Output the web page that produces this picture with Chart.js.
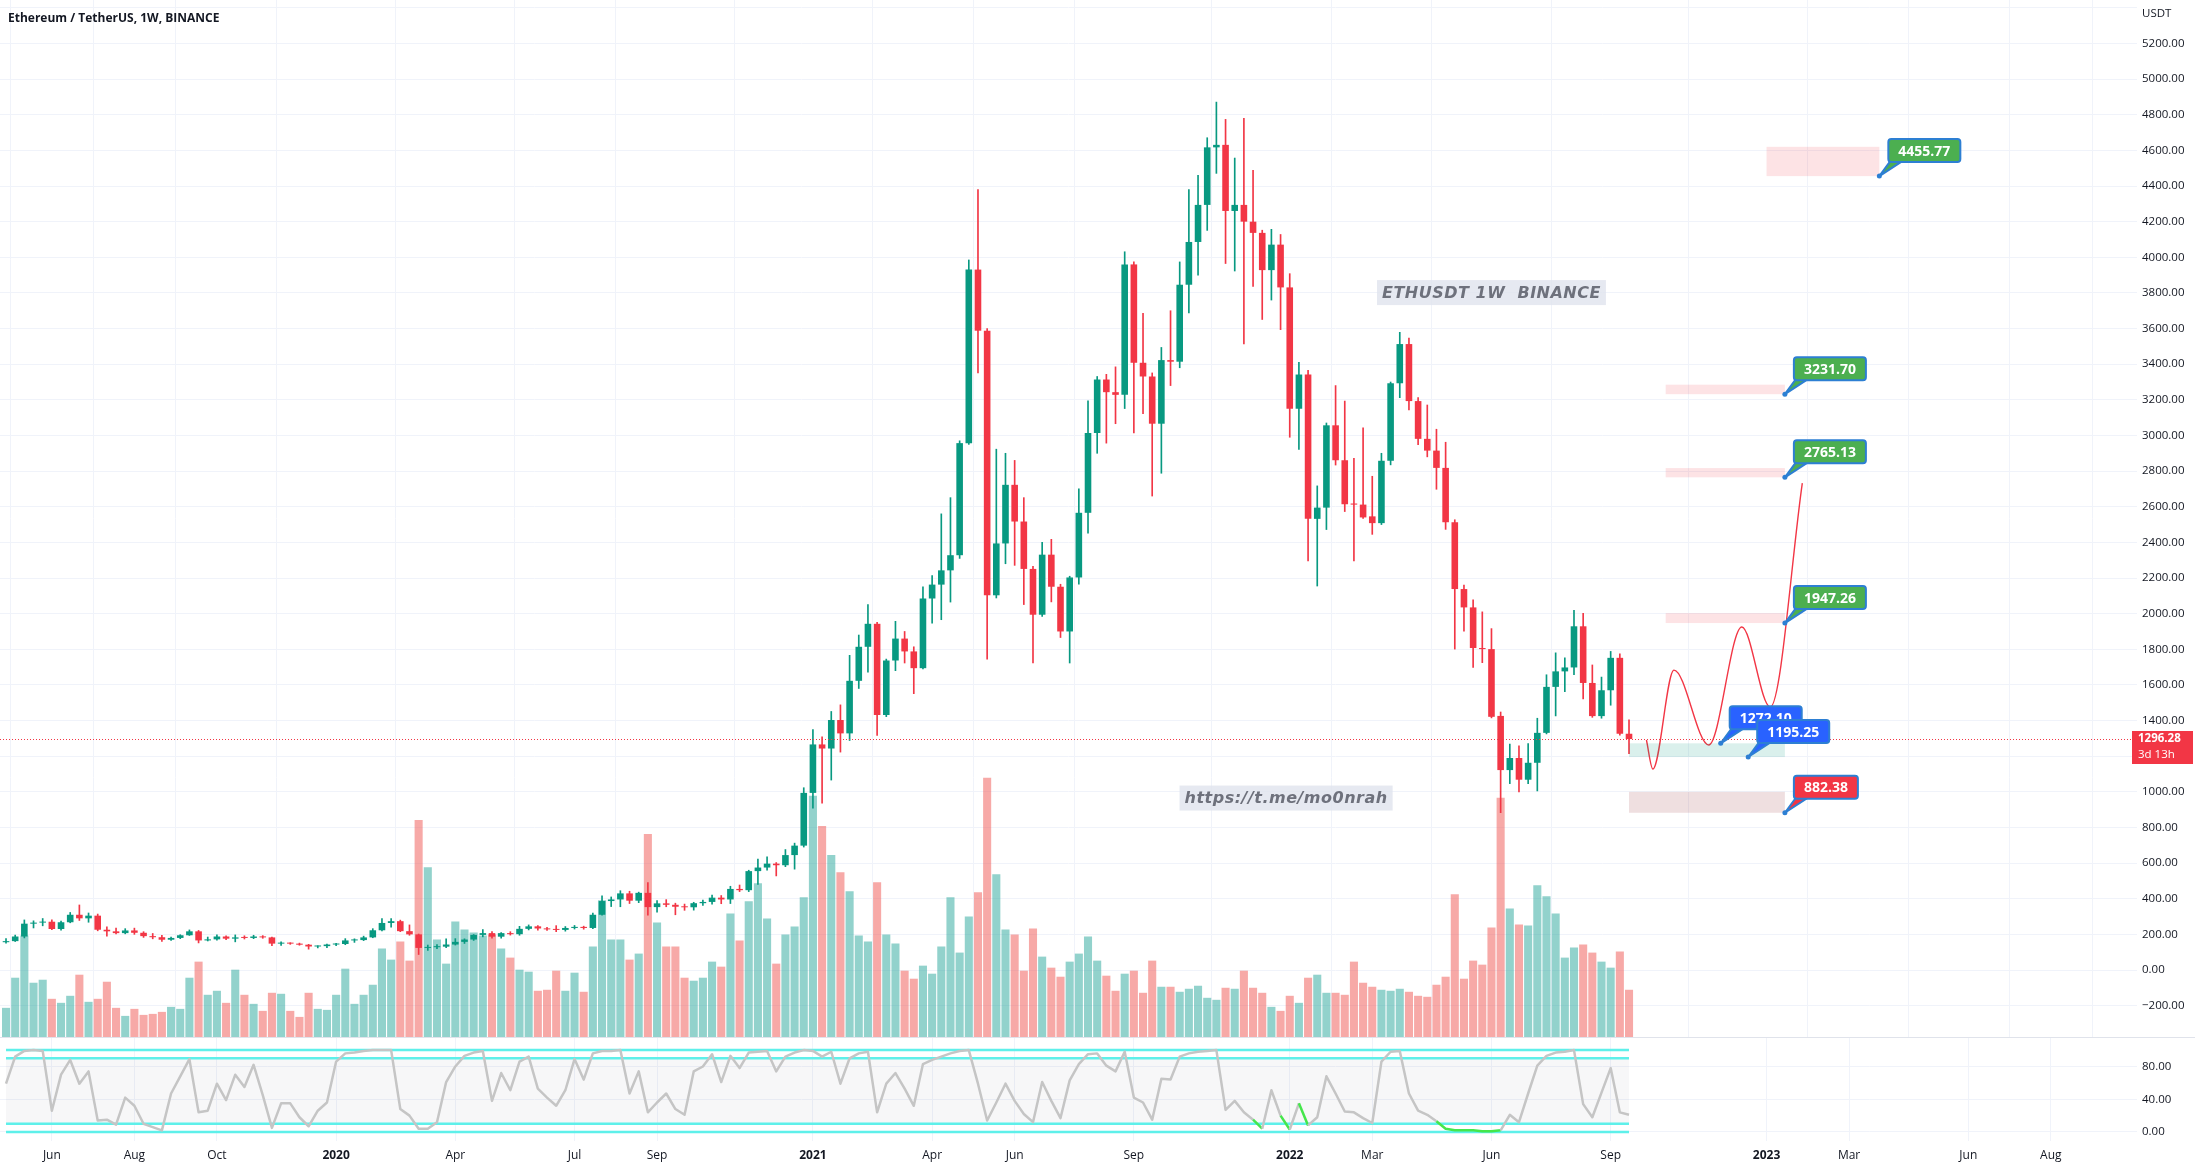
<!DOCTYPE html>
<html>
<head>
<meta charset="utf-8">
<title>ETHUSDT 1W BINANCE</title>
<script src="https://cdn.jsdelivr.net/npm/chart.js"></script>
<style>
  html, body { margin: 0; padding: 0; background: #fff; }
  #wrap { position: relative; width: 2195px; height: 1168px; overflow: hidden; }
  #priceCanvas { position: absolute; left: 0; top: 0; }
  #oscCanvas { position: absolute; left: 0; top: 1037px; }
  #title { position: absolute; left: 8px; top: 9px; font: bold 12px "Open Sans", sans-serif; color: #131722; }
</style>
</head>
<body>
<div id="wrap">
  <canvas id="priceCanvas" width="2195" height="1037"></canvas>
  <canvas id="oscCanvas" width="2195" height="131"></canvas>
  <div id="title">Ethereum / TetherUS, 1W, BINANCE</div>
</div>
<script>
// weekly bars, first week starts 2019-04-29
const open = [
  156,162,188,260,266,271,230,268,310,290,
  305,226,217,207,222,209,190,184,170,180,
  195,217,166,172,188,176,183,180,188,183,
  148,152,148,142,132,134,143,146,166,168,
  183,223,264,274,218,200,124,128,131,143,
  158,171,197,207,187,207,201,231,245,233,
  228,225,236,242,236,310,387,396,430,389,
  433,353,374,366,355,352,375,382,406,396,
  455,448,555,575,597,588,645,698,994,1266,
  1243,1403,1328,1623,1814,1943,1431,1737,1860,1788,
  1694,2085,2163,2243,2328,2957,3931,3588,2103,2394,
  2723,2517,2251,1994,2331,2151,1900,2203,2566,3014,
  3314,3243,3228,3960,3408,3331,3066,3423,3414,3846,
  4086,4294,4617,4631,4260,4294,4200,4137,3928,4071,
  3831,3150,3342,2532,2595,3057,2861,2618,2612,2546,
  2508,2858,3293,3513,3193,2981,2915,2818,2513,2138,
  2035,1807,1801,1426,1122,1190,1068,1163,1331,1589,
  1676,1698,1929,1611,1425,1570,1752,1326
];
const high = [
  176,196,281,276,289,282,275,323,365,320,
  314,242,235,232,235,215,205,195,185,198,
  225,222,185,198,192,197,192,195,193,185,
  158,153,151,144,136,145,150,176,175,190,
  232,288,288,280,253,202,140,142,175,176,
  175,199,227,216,210,215,245,253,250,240,
  249,244,250,246,320,416,410,445,442,437,
  490,390,395,375,370,380,393,420,418,470,
  477,560,623,635,603,676,712,1023,1350,1308,
  1451,1488,1766,1880,2051,1951,1745,1957,1900,1814,
  2151,2214,2560,2651,2970,3985,4380,3600,2923,2900,
  2860,2651,2266,2400,2417,2165,2210,2700,3194,3331,
  3343,3385,4031,3974,3686,3351,3494,3700,3974,4380,
  4460,4671,4871,4774,4557,4780,4488,4152,4157,4128,
  3908,3410,3365,2717,3070,3280,3193,2872,3043,2771,
  2900,3300,3579,3546,3212,3171,3035,2962,2527,2160,
  2078,2010,1916,1448,1268,1258,1271,1413,1657,1780,
  1752,2019,2002,1712,1644,1788,1774,1404
];
const low = [
  150,160,180,236,248,226,224,265,278,268,
  220,190,202,203,200,183,175,160,166,176,
  194,152,163,168,170,158,174,176,178,137,
  138,144,139,117,124,125,137,142,155,165,
  181,220,240,215,195,87,110,120,126,140,
  149,166,186,178,178,196,195,225,224,222,
  215,218,230,229,232,308,356,355,373,378,
  308,325,355,310,335,336,362,370,372,373,
  440,440,480,560,528,580,566,690,908,937,
  1066,1223,1288,1580,1671,1317,1422,1680,1723,1551,
  1690,1946,1966,2065,2310,2950,3351,1745,2088,2280,
  2271,2051,1723,1985,2066,1866,1723,2166,2451,2900,
  2957,3066,3151,3014,3122,2660,2788,3280,3380,3688,
  3900,4151,4471,3965,3923,3514,3837,3651,3760,3594,
  2990,2921,2296,2155,2472,2834,2573,2296,2535,2445,
  2500,2835,3212,3144,2948,2880,2698,2473,1801,1902,
  1698,1725,1415,883,1046,999,1046,1005,1325,1426,
  1562,1657,1521,1418,1413,1486,1318,1214
];
const close = [
  162,188,260,266,271,230,268,310,290,305,
  226,217,207,222,209,190,184,170,180,195,
  217,166,172,188,176,183,180,188,183,148,
  152,148,142,132,134,143,146,166,168,183,
  223,264,274,218,200,124,128,131,143,158,
  171,197,207,187,207,201,231,245,233,228,
  225,236,242,236,310,387,396,430,389,433,
  353,374,366,355,352,375,382,406,396,455,
  448,555,575,597,588,645,698,994,1266,1243,
  1403,1328,1623,1814,1943,1431,1737,1860,1788,1694,
  2085,2163,2243,2328,2957,3931,3588,2103,2394,2723,
  2517,2251,1994,2331,2151,1900,2203,2566,3014,3314,
  3243,3228,3960,3408,3331,3066,3423,3414,3846,4086,
  4294,4617,4631,4260,4294,4200,4137,3928,4071,3831,
  3150,3342,2532,2595,3057,2861,2614,2612,2540,2508,
  2858,3293,3513,3193,2981,2915,2818,2513,2138,2035,
  1807,1801,1421,1122,1190,1068,1163,1331,1589,1676,
  1698,1929,1611,1425,1570,1752,1326,1296.28
];
// weekly volume, million ETH
const volume = [
  2.9,5.9,10.1,5.4,5.7,3.8,3.4,4.1,6.2,3.5,
  3.8,5.5,2.9,2.1,2.8,2.2,2.3,2.5,3.0,2.8,
  5.9,7.5,4.2,4.6,3.4,6.7,4.2,3.3,2.6,4.4,
  4.3,2.6,2.0,4.4,2.8,2.7,4.2,6.8,3.3,4.2,
  5.2,8.8,7.7,9.5,7.6,21.6,16.9,9.7,7.3,11.5,
  10.7,10.4,10.1,10.2,8.8,7.9,6.7,6.5,4.6,4.7,
  6.6,4.6,6.4,4.5,9.0,13.6,9.7,9.7,7.7,8.3,
  20.2,11.4,9.0,9.0,5.9,5.6,5.9,7.5,7.0,12.3,
  9.6,13.5,15.3,11.8,7.3,10.2,11.0,13.9,24.0,21.0,
  18.1,16.4,14.5,10.1,9.5,15.4,10.2,9.3,6.6,5.8,
  7.1,6.3,9.0,13.9,8.4,12.0,14.4,25.8,16.2,10.7,
  10.2,6.6,10.8,8.0,6.9,6.0,7.5,8.3,10.0,7.6,
  6.1,4.6,6.3,6.6,4.4,7.6,5.0,5.0,4.5,4.8,
  5.1,3.9,3.7,4.9,4.8,6.6,4.9,4.4,3.0,2.6,
  4.1,3.4,5.9,6.2,4.4,4.4,4.2,7.5,5.4,5.0,
  4.7,4.6,4.8,4.5,4.1,4.0,5.2,6.0,14.2,5.8,
  7.6,7.2,10.9,23.8,12.8,11.2,11.1,15.1,14.0,12.3,
  7.9,8.9,9.2,8.4,7.5,6.9,8.5,4.7
];
// stochastic RSI %K
const stochK = [
  59,92,99,100,99,26,70,88,59,74,
  14,15,9,42,32,10,6,2,47,68,
  89,24,26,59,39,70,55,82,45,5,
  35,35,18,7,26,36,86,96,97,99,
  100,100,100,28,20,4,4,12,61,80,
  93,97,99,38,72,51,86,92,53,42,
  32,51,89,64,96,99,99,100,47,74,
  24,36,47,28,21,74,80,95,61,93,
  78,97,98,99,74,92,97,100,99,92,
  98,59,90,96,98,24,59,72,53,32,
  83,88,92,96,99,100,59,14,36,59,
  38,22,12,61,38,17,63,83,95,96,
  81,74,98,42,36,15,65,64,92,96,
  98,99,100,27,38,24,15,4,51,20,
  3,35,8,18,68,47,25,24,17,11,
  86,98,99,47,26,21,13,4,2,2,
  2,1,1,2,21,12,47,81,93,97,
  98,100,34,18,48,78,24,21
];
// segments (start week) drawn in green
const stochGreen = [136, 139, 141, 156, 157, 158, 159, 160, 161, 162];
const stochBands = [0, 10, 90, 100];
const stochTicks = [0, 40, 80];

const priceTicks = [];
for (let v = -200; v <= 5400; v += 200) priceTicks.push(v);

const timeTicks  = [5, 14, 23, 36, 49, 62, 71, 88, 101, 110, 123, 140, 149, 162, 175, 192, 201, 214, 223];
const timeLabels = ['Jun', 'Aug', 'Oct', '2020', 'Apr', 'Jul', 'Sep', '2021', 'Apr', 'Jun', 'Sep', '2022', 'Mar', 'Jun', 'Sep', '2023', 'Mar', 'Jun', 'Aug'];

const lastPrice = 1296.28;
const lastPriceTimer = '3d 13h';

// projected path drawn on the chart
const pathWeek  = [178.9, 179.6, 181.9, 185.7, 189.3, 192.4, 195.9];
const pathPrice = [1291, 1128, 1683, 1263, 1925, 1476, 2733];

// price targets (callouts)
const targets     = [4455.77, 3231.70, 2765.13, 1947.26, 1272.10, 1195.25, 882.38];
const targetWeek  = [204.3, 194, 194, 194, 187, 190, 194];
const targetColor = ['#4caf50', '#4caf50', '#4caf50', '#4caf50', '#2962ff', '#2962ff', '#f23645'];

// zones: [fromWeek, toWeek, lowPrice, highPrice]
const zoneFrom = [192, 181, 181, 181, 177, 177];
const zoneTo   = [204.3, 194, 194, 194, 194, 194];
const zoneLow  = [4455.77, 3231.70, 2765.13, 1947.26, 1195.25, 882.38];
const zoneHigh = [4620, 3285, 2817, 2003, 1272.10, 1000];
const zoneFill = ['rgba(242,54,69,0.14)', 'rgba(242,54,69,0.14)', 'rgba(242,54,69,0.14)', 'rgba(242,54,69,0.14)',
                  'rgba(8,153,129,0.15)', 'rgba(150,40,50,0.15)'];

// text notes
const noteWeek  = [162, 139.6];
const notePrice = [3802, 965];
const noteText  = ['ETHUSDT 1W  BINANCE', 'https://t.me/mo0nrah'];

const up = '#089981', down = '#f23645';
const upVol = 'rgba(38,166,154,0.5)', downVol = 'rgba(239,83,80,0.5)';
const gridColor = '#f0f3fa';
const xMin = -0.656, xMax = 232.4;

const weeks = close.map((_, i) => i);
const isUp = i => close[i] >= open[i];

Chart.defaults.font.family = '"Open Sans", "Liberation Sans", sans-serif';
Chart.defaults.color = '#131722';
Chart.defaults.animation = false;

const fmt = v => (v < 0 ? '\u2212' : '') + Math.abs(v).toFixed(2);

function drawCallout(ctx, ax, ay, text, fill) {
  ctx.font = 'bold 14px "Open Sans"';
  const w = Math.round(ctx.measureText(text).width) + 20, h = 23;
  const bx = ax + 9, by = ay - 14 - h;
  const edge = '#2d7fd3';
  ctx.lineJoin = 'round';
  ctx.beginPath();
  ctx.moveTo(ax, ay);
  ctx.lineTo(bx + 2, by + h - 1);
  ctx.lineTo(bx + 14, by + h - 1);
  ctx.closePath();
  ctx.fillStyle = fill; ctx.fill();
  ctx.strokeStyle = edge; ctx.lineWidth = 2; ctx.stroke();
  ctx.beginPath();
  ctx.roundRect(bx, by, w, h, 3);
  ctx.fillStyle = fill; ctx.fill();
  ctx.stroke();
  ctx.beginPath(); ctx.arc(ax, ay, 2.5, 0, Math.PI * 2);
  ctx.fillStyle = edge; ctx.fill();
  ctx.fillStyle = '#fff';
  ctx.textAlign = 'center'; ctx.textBaseline = 'middle';
  ctx.fillText(text, bx + w / 2, by + h / 2 + 1);
}

function drawNote(ctx, cx, cy, text) {
  ctx.font = 'italic bold 16px "DejaVu Sans"';
  ctx.letterSpacing = '0.5px';
  const w = ctx.measureText(text).width + 10, h = 25;
  ctx.fillStyle = 'rgba(224,228,237,0.8)';
  ctx.fillRect(cx - w / 2, cy - h / 2, w, h);
  ctx.fillStyle = '#6e717c';
  ctx.textAlign = 'center'; ctx.textBaseline = 'middle';
  ctx.fillText(text, cx, cy + 1);
  ctx.letterSpacing = '0px';
}

const overlay = {
  id: 'overlay',
  afterDatasetsDraw(chart) {
    const { ctx, chartArea: a, scales: { x, y } } = chart;
    ctx.save();
    ctx.beginPath(); ctx.rect(a.left, a.top, a.right - a.left, a.bottom - a.top); ctx.clip();

    zoneFrom.forEach((f, i) => {
      const x0 = x.getPixelForValue(f), x1 = x.getPixelForValue(zoneTo[i]);
      const y0 = y.getPixelForValue(zoneHigh[i]), y1 = y.getPixelForValue(zoneLow[i]);
      ctx.fillStyle = zoneFill[i];
      ctx.fillRect(x0, y0, x1 - x0, y1 - y0);
    });

    const py = Math.round(y.getPixelForValue(lastPrice)) + 0.5;
    ctx.strokeStyle = down; ctx.lineWidth = 1; ctx.setLineDash([1, 2]);
    ctx.beginPath(); ctx.moveTo(a.left, py); ctx.lineTo(a.right, py); ctx.stroke();
    ctx.setLineDash([]);

    noteText.forEach((t, i) => drawNote(ctx, x.getPixelForValue(noteWeek[i]), y.getPixelForValue(notePrice[i]), t));

    targets.forEach((p, i) => drawCallout(ctx, x.getPixelForValue(targetWeek[i]), y.getPixelForValue(p), p.toFixed(2), targetColor[i]));
    ctx.restore();
  },
  afterDraw(chart) {
    const { ctx, chartArea: a, scales: { y } } = chart;
    ctx.save();
    ctx.font = '11.5px "Open Sans"';
    ctx.fillStyle = '#131722';
    ctx.textAlign = 'left'; ctx.textBaseline = 'middle';
    ctx.fillText('USDT', a.right + 5, 14);

    const py = y.getPixelForValue(lastPrice);
    ctx.fillStyle = down;
    ctx.fillRect(a.right - 5, Math.round(py) - 8, 61, 33);
    ctx.fillStyle = '#fff';
    ctx.font = 'bold 11.5px "Open Sans"';
    ctx.fillText(lastPrice.toFixed(2), a.right + 1, py);
    ctx.font = '11.5px "Open Sans"';
    ctx.fillText(lastPriceTimer, a.right + 1, py + 16);
    ctx.restore();
  }
};

new Chart(document.getElementById('priceCanvas'), {
  type: 'bar',
  data: {
    datasets: [
      {
        type: 'line', label: 'Projection',
        data: pathWeek.map((w, i) => ({ x: w, y: pathPrice[i] })),
        borderColor: down, borderWidth: 1.4, pointRadius: 0,
        cubicInterpolationMode: 'monotone', yAxisID: 'y'
      },
      {
        label: 'Body',
        data: weeks.map(i => ({ x: i, y: [open[i], close[i]] })),
        backgroundColor: weeks.map(i => isUp(i) ? up : down),
        grouped: false, categoryPercentage: 1, barPercentage: 0.72, minBarLength: 1,
        borderWidth: 0, yAxisID: 'y'
      },
      {
        label: 'Wick',
        data: weeks.map(i => ({ x: i, y: [low[i], high[i]] })),
        backgroundColor: weeks.map(i => isUp(i) ? up : down),
        grouped: false, barThickness: 1, borderWidth: 0, yAxisID: 'y'
      },
      {
        label: 'Volume',
        data: weeks.map(i => ({ x: i, y: volume[i] })),
        backgroundColor: weeks.map(i => isUp(i) ? upVol : downVol),
        grouped: false, categoryPercentage: 1, barPercentage: 0.88,
        borderWidth: 0, yAxisID: 'yv'
      }
    ]
  },
  options: {
    responsive: false,
    maintainAspectRatio: false,
    devicePixelRatio: 1,
    layout: { padding: 0 },
    plugins: { legend: { display: false }, tooltip: { enabled: false } },
    scales: {
      x: {
        type: 'linear', min: xMin, max: xMax, offset: false,
        afterBuildTicks: s => { s.ticks = timeTicks.map(v => ({ value: v })); },
        ticks: { display: false },
        grid: { color: gridColor, drawTicks: false },
        border: { display: false },
        afterFit: s => { s.height = 0; s.paddingLeft = 0; s.paddingRight = 0; }
      },
      y: {
        position: 'right', min: -376, max: 5444,
        afterBuildTicks: s => { s.ticks = priceTicks.map(v => ({ value: v })); },
        ticks: {
          padding: 5, autoSkip: false,
          font: { size: 11.5 },
          callback: v => v > 5200 ? '' : fmt(v)
        },
        grid: { color: gridColor, drawTicks: false },
        border: { display: false },
        afterFit: s => { s.width = 58; s.paddingTop = 0; s.paddingBottom = 0; }
      },
      yv: { display: false, min: 0, max: Math.max(...volume) * 4 }
    }
  },
  plugins: [overlay]
});

const separator = {
  id: 'separator',
  afterDraw(chart) {
    const ctx = chart.ctx;
    ctx.save();
    ctx.fillStyle = '#e0e3eb';
    ctx.fillRect(0, 0, chart.width, 1);
    ctx.restore();
  }
};

new Chart(document.getElementById('oscCanvas'), {
  type: 'line',
  data: {
    datasets: [
      {
        label: 'Stoch RSI',
        data: weeks.map(i => ({ x: i, y: stochK[i] })),
        borderColor: '#c5c5c5', borderWidth: 2.5, pointRadius: 0,
        borderJoinStyle: 'round',
        segment: { borderColor: c => stochGreen.includes(c.p0DataIndex) ? '#45e64b' : undefined }
      },
      ...stochBands.map(v => ({
        label: 'Band ' + v,
        data: weeks.map(i => ({ x: i, y: v })),
        borderColor: '#5ef0ea', borderWidth: 2.5, pointRadius: 0,
        fill: v === 90 ? { value: 10 } : false,
        backgroundColor: 'rgba(120,123,134,0.06)'
      }))
    ]
  },
  options: {
    responsive: false,
    maintainAspectRatio: false,
    devicePixelRatio: 1,
    layout: { padding: 0 },
    plugins: { legend: { display: false }, tooltip: { enabled: false } },
    scales: {
      x: {
        type: 'linear', min: xMin, max: xMax, offset: false,
        afterBuildTicks: s => { s.ticks = timeTicks.map(v => ({ value: v })); },
        ticks: {
          autoSkip: false, maxRotation: 0, padding: 7,
          font: c => ({ size: 12, weight: /^\d{4}$/.test(timeLabels[c.index]) ? 'bold' : 'normal' }),
          callback: (v, i) => timeLabels[i]
        },
        grid: { color: gridColor, drawTicks: false },
        border: { display: false },
        afterFit: s => { s.height = 27; s.paddingLeft = 0; s.paddingRight = 0; }
      },
      y: {
        position: 'right', min: -11, max: 116,
        afterBuildTicks: s => { s.ticks = stochTicks.map(v => ({ value: v })); },
        ticks: { padding: 5, autoSkip: false, font: { size: 11.5 }, callback: v => v.toFixed(2) },
        grid: { color: gridColor, drawTicks: false },
        border: { display: false },
        afterFit: s => { s.width = 58; s.paddingTop = 0; s.paddingBottom = 0; }
      }
    }
  },
  plugins: [separator]
});
</script>
</body>
</html>
